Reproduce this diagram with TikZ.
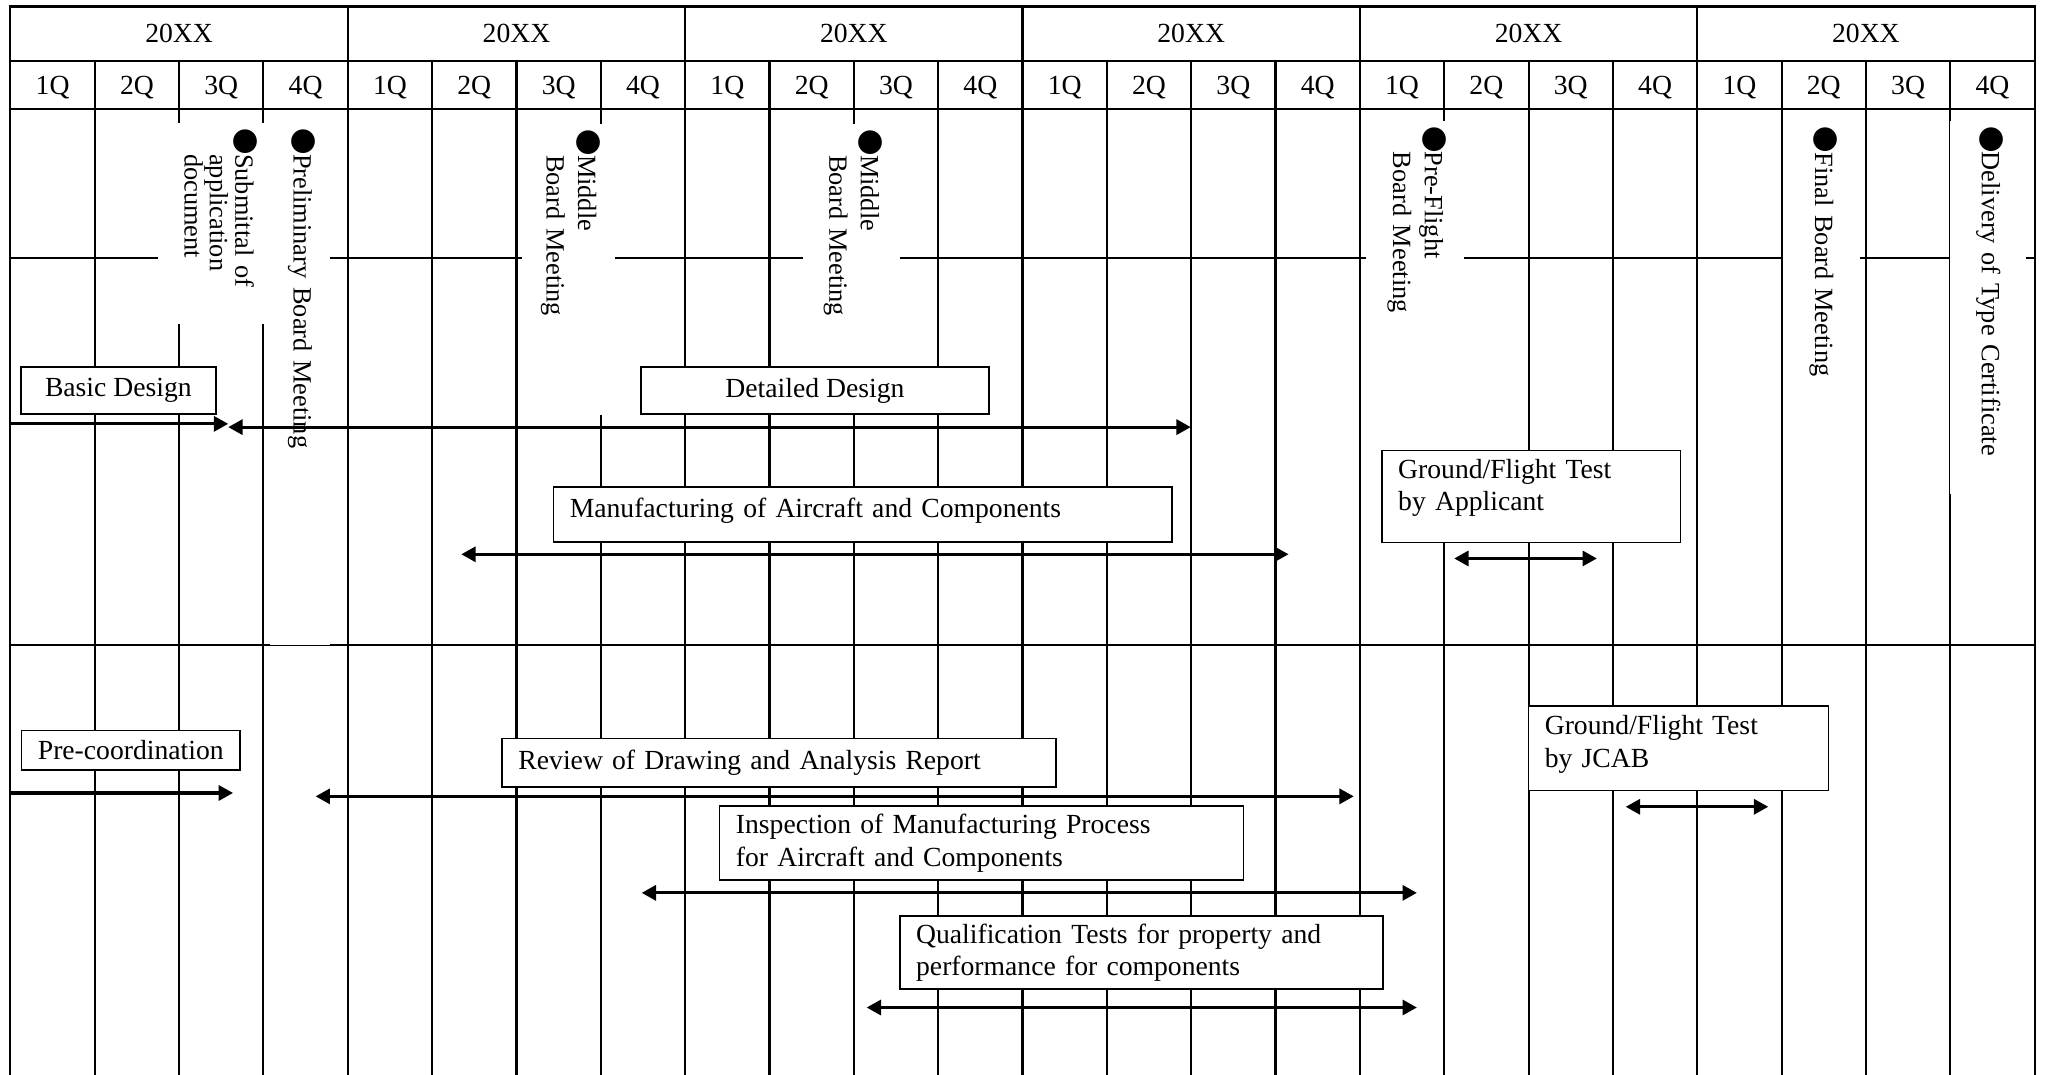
\documentclass[tikz,border=0pt]{standalone}
\usepackage{fontspec}
\setmainfont{Liberation Serif}
\newfontfamily\cjkfont{Noto Sans CJK JP}
\usetikzlibrary{arrows.meta}
\setlength{\parindent}{0pt}

\newcommand\taskfont{\fontsize{21.2}{25}\selectfont}
\newcommand\milefont{\fontsize{20.2}{24.3}\selectfont}
\newcommand\mdot{\smash{\cjkfont ●}\kern-0.5pt}
\newcommand\hang{\phantom{\mdot}}
\newcommand\lowpad[1]{\rule[-#1]{0pt}{#1}}

\tikzset{
  gridline/.style={line width=1.6pt, line cap=rect},
  task/.style={draw, fill=white, line width=1.1pt, anchor=north west,
    inner xsep=12.5pt, inner ysep=0pt, font=\taskfont},
  tasktext/.style={task, align=left},
  milestone/.style={fill=white, rotate=-90, anchor=west, align=left,
    inner xsep=4pt, inner ysep=0pt, font=\milefont},
  spanarrow/.style={line width=2.4pt,
    {Triangle[length=11pt,width=11.5pt]}-{Triangle[length=11pt,width=11.5pt]}},
  leadarrow/.style={line width=2.4pt, -{Triangle[length=11pt,width=11.5pt]}}
}

\begin{document}
\begin{tikzpicture}[x=1pt, y=-1pt]
    \useasboundingbox (0,0) rectangle (1568,824);

    % table frame
    \draw[gridline] (8,5) -- (1560,5);
    \draw[gridline] (8,46.5) -- (1560,46.5);
    \draw[gridline] (8,83.6) -- (1560,83.6);
    \draw[gridline] (8,197.6) -- (1560,197.6);
    \draw[gridline] (8,494.5) -- (1560,494.5);
    \foreach \y in {0,...,6}
        \draw[gridline] ({8+258.667*\y},5) -- ({8+258.667*\y},824);
    \foreach \q in {1,...,23}
        \draw[gridline] ({8+64.667*\q},46.5) -- ({8+64.667*\q},824);

    % years and quarters
    \foreach \y in {0,...,5} {
        \node[font=\taskfont] (yr\y) at ({137.33+258.667*\y},25.75) {20XX};
        \foreach \k in {1,...,4}
            \node[font=\taskfont] (q\y\k) at ({8+64.667*(4*\y+\k-0.5)},67) {\k Q};
    }

    % milestones
    \node[milestone, font=\fontsize{20.2}{19.5}\selectfont, text width=146.2pt, minimum height=93pt] (submit) at (168,94.3)
        {\mdot Submittal of\\\hang application\\\hang document};
    \node[milestone, text width=392.2pt, minimum height=46pt] (prelim) at (230,94.3)
        {\mdot Preliminary Board Meeting};
    \node[milestone, text width=215pt, minimum height=71pt] (midA) at (436,95)
        {\mdot Middle\\\hang Board Meeting};
    \node[milestone, text width=197pt, minimum height=74.5pt] (midB) at (652.8,95)
        {\mdot Middle\\\hang Board Meeting};
    \node[milestone, text width=245.5pt, minimum height=75.2pt] (preflight) at (1085.1,92.5)
        {\mdot Pre-Flight\\\hang Board Meeting};
    \node[milestone, text width=199pt, minimum height=59pt] (final) at (1396.5,93)
        {\mdot Final Board Meeting};
    \node[milestone, text width=277.8pt, minimum height=58.2pt] (deliver) at (1524.5,92.5)
        {\mdot Delivery of Type Certificate};

    % design and manufacturing
    \node[task, minimum width=149.6pt, minimum height=36pt] (basic) at (15.4,281) {Basic Design};
    \node[task, minimum width=266.6pt, minimum height=36pt] (detail) at (491,281) {Detailed Design};
    \node[tasktext, text width=449.2pt, minimum height=42.2pt] (manuf) at (423.8,372.8)
        {Manufacturing of Aircraft and Components\lowpad{10.6pt}};
    \node[tasktext, text width=204pt, minimum height=70.4pt] (applic) at (1059,345)
        {Ground/Flight Test\\by Applicant\lowpad{17.6pt}};

    % JCAB side
    \node[task, minimum width=163pt, minimum height=30pt] (precoord) at (16,559.7) {Pre-coordination};
    \node[tasktext, text width=399.5pt, minimum height=37.5pt] (review) at (384.5,565.5)
        {Review of Drawing and Analysis Report};
    \node[tasktext, text width=376.6pt, minimum height=57pt] (inspect) at (551.2,617.3)
        {Inspection of Manufacturing Process\\for Aircraft and Components};
    \node[tasktext, text width=345.4pt, minimum height=56.2pt] (qualif) at (689.4,701.7)
        {Qualification Tests for property and\\performance for components};
    \node[tasktext, text width=204.9pt, minimum height=64.7pt] (jcab) at (1171.4,540.9)
        {Ground/Flight Test\\by JCAB\lowpad{10.6pt}};

    % periods
    \coordinate (basic-a) at (8,325);
    \coordinate (basic-b) at (175,325);
    \coordinate (detail-a) at (175,327.5);
    \coordinate (detail-b) at (913,327.5);
    \coordinate (manuf-a) at (353.7,425);
    \coordinate (manuf-b) at (988,425);
    \coordinate (applic-a) at (1115,428.2);
    \coordinate (applic-b) at (1224.4,428.2);
    \coordinate (precoord-a) at (8,608);
    \coordinate (precoord-b) at (178.7,608);
    \coordinate (review-a) at (242,610.6);
    \coordinate (review-b) at (1038,610.6);
    \coordinate (inspect-a) at (492,684.6);
    \coordinate (inspect-b) at (1086.4,684.6);
    \coordinate (qualif-a) at (664.5,772.5);
    \coordinate (qualif-b) at (1086.4,772.5);
    \coordinate (jcab-a) at (1246.5,618.6);
    \coordinate (jcab-b) at (1355.8,618.6);

    \draw[leadarrow] (basic-a) -- (basic-b);
    \draw[spanarrow] (detail-a) -- (detail-b);
    \draw[spanarrow] (manuf-a) -- (manuf-b);
    \draw[spanarrow] (applic-a) -- (applic-b);
    \draw[leadarrow] (precoord-a) -- (precoord-b);
    \draw[spanarrow] (review-a) -- (review-b);
    \draw[spanarrow] (inspect-a) -- (inspect-b);
    \draw[spanarrow] (qualif-a) -- (qualif-b);
    \draw[spanarrow] (jcab-a) -- (jcab-b);
\end{tikzpicture}
\end{document}
